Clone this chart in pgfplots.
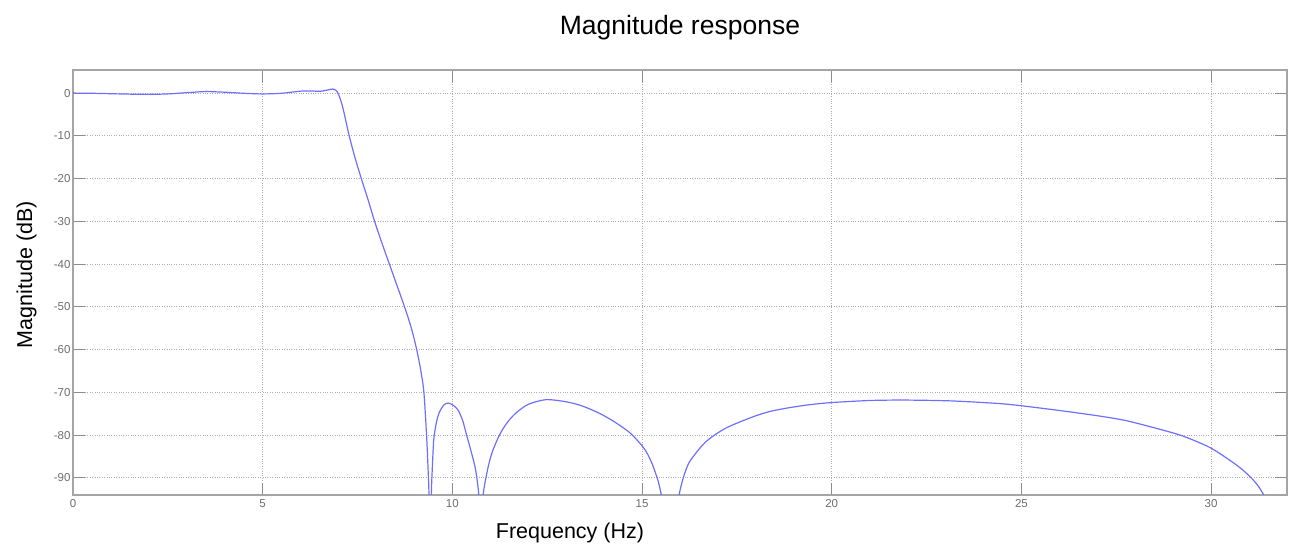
\documentclass[border=0pt]{standalone}
\usepackage{pgfplots}
\pgfplotsset{compat=1.18}
\usepackage{fontspec}
\setmainfont{Liberation Sans}
\definecolor{curve}{RGB}{110,110,255}
\definecolor{tickgray}{RGB}{110,110,110}
\definecolor{tickmark}{RGB}{140,140,140}
\definecolor{axgray}{RGB}{165,165,165}
\definecolor{gridgray}{RGB}{175,175,175}
\begin{document}
\begin{tikzpicture}
\useasboundingbox (-73pt,-50pt) rectangle (1223pt,495pt);
\begin{axis}[
  at={(0,0)}, anchor=south west,
  scale only axis, width=1214pt, height=425pt,
  xmin=0, xmax=32, ymin=-94, ymax=5.4,
  xtick={0,5,...,30}, ytick={-90,-80,...,0},
  tick align=inside,
  major tick length=12pt,
  grid=major,
  major grid style={dotted, gridgray, line width=0.8pt},
  axis line style={axgray, line width=1.2pt},
  major tick style={tickmark, line width=0.9pt},
  tick label style={font=\fontsize{11.5}{13}\selectfont, text=tickgray},
  /pgf/number format/assume math mode=true,
  xticklabel style={inner sep=4.5pt},
  yticklabel style={inner sep=2.3pt},
  title={Magnitude response},
  title style={at={(0.5,1.0824)}, anchor=base, yshift=-6pt, font=\fontsize{26.5}{30}\selectfont},
  xlabel={Frequency (Hz)},
  xlabel style={at={(0.4094,-0.1012)}, anchor=base, font=\fontsize{21.5}{25}\selectfont},
  ylabel={Magnitude (dB)},
  ylabel style={at={(-0.03377,0.518)}, anchor=base, font=\fontsize{21.5}{25}\selectfont},
]
\addplot[curve, line width=1.2pt, mark=none, smooth, tension=0.45] coordinates {
(0,0.0) (0.5,-0.05) (1.0,-0.15) (1.5,-0.25) (2.0,-0.3) (2.5,-0.2) (3.0,0.1)
(3.5,0.35) (4.0,0.2) (4.5,-0.05) (5.0,-0.2) (5.5,-0.05) (6.0,0.45) (6.3,0.5)
(6.5,0.4) (6.7,0.7) (6.85,0.95) (6.95,0.5) (7.03,-1.0) (7.1,-3.0) (7.16,-5.2)
(7.27,-9.6) (7.43,-15) (7.60,-20) (7.78,-25) (7.95,-30) (8.14,-35) (8.34,-40)
(8.54,-45) (8.74,-50) (8.92,-55) (9.06,-60) (9.17,-65) (9.25,-70) (9.32,-80)
(9.36,-88) (9.385,-94.5) (9.415,-115) (9.445,-94.5) (9.47,-88) (9.51,-81)
(9.58,-77) (9.66,-74.6) (9.78,-72.9) (9.89,-72.5) (10.0,-72.9) (10.1,-73.6) (10.18,-74.6)
(10.28,-76.8) (10.36,-79.5) (10.5,-84) (10.62,-88.5) (10.71,-96) (10.745,-115) (10.79,-96)
(10.93,-88) (11.05,-84) (11.24,-80) (11.45,-77) (11.68,-74.8) (12.0,-72.8)
(12.47,-71.7) (13.0,-72.2) (13.43,-73.2) (13.9,-75) (14.31,-77.1) (14.7,-79.6)
(15.01,-82.6) (15.15,-84.5) (15.27,-86.8) (15.36,-89.0) (15.42,-90.6) (15.47,-92.4)
(15.52,-94.5) (15.56,-97) (15.745,-125) (15.93,-97) (15.97,-94.3) (16.02,-92.2)
(16.1,-89.6) (16.24,-86.4) (16.5,-83.3) (16.7,-81.4) (16.94,-79.8) (17.2,-78.4)
(17.5,-77.2) (17.99,-75.5) (18.4,-74.4)
(18.87,-73.6) (19.4,-72.9) (19.97,-72.4) (21.0,-71.9) (21.94,-71.8) (23.17,-72.0)
(24.39,-72.6) (24.97,-73.1) (25.97,-74.2) (27.03,-75.5) (27.7,-76.5) (28.34,-77.9)
(29.22,-80.1) (29.97,-82.9) (30.53,-86.1) (30.8,-87.9) (31.06,-90) (31.25,-92) (31.39,-94) (31.6,-97)
};
\end{axis}
\end{tikzpicture}
\end{document}
